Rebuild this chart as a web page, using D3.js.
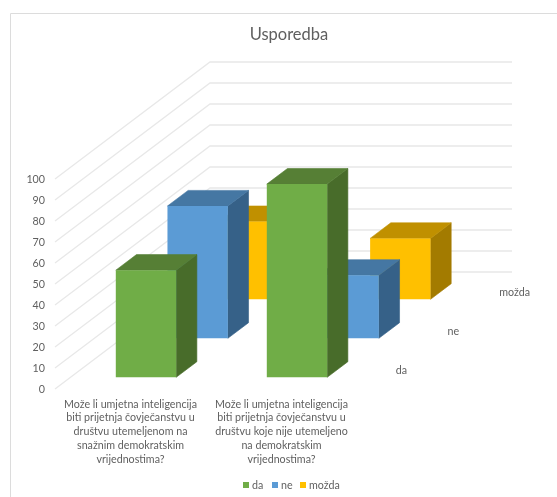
<!DOCTYPE html>
<html>
<head>
<meta charset="utf-8">
<script src="https://cdn.jsdelivr.net/npm/d3@7"></script>
<style>
  html, body { margin: 0; padding: 0; background: #fff; }
  svg { filter: blur(0.35px); }
  text { font-family: Lato, "Open Sans", sans-serif; fill: #5f5f5f; }
</style>
</head>
<body>
<script>
const title = 'Usporedba';
const categories = [
    ['Može li umjetna inteligencija', 'biti prijetnja čovječanstvu u', 'društvu utemeljenom na', 'snažnim demokratskim', 'vrijednostima?'],
    ['Može li umjetna inteligencija', 'biti prijetnja čovječanstvu u', 'društvu koje nije utemeljeno', 'na demokratskim', 'vrijednostima?']
];
const seriesNames = ['da', 'ne', 'možda'];
const daValues = [51, 92];
const neValues = [63, 30];
const mozdaValues = [37, 29];
const valueTicks = [0, 10, 20, 30, 40, 50, 60, 70, 80, 90, 100];

const seriesValues = [daValues, neValues, mozdaValues];
const frontColors = ['#70ad47', '#5b9bd5', '#ffc000'];
const topColors = ['#567f35', '#4577a3', '#c09000'];
const sideColors = ['#486c2a', '#366188', '#a37b00'];

const width = 557, height = 497;

const svg = d3.select('body').append('svg')
    .attr('width', width)
    .attr('height', height)
    .style('display', 'block');

// chart frame, only top and left edges are visible in the crop
svg.append('path')
    .attr('d', d3.line()([[10.5, height], [10.5, 13.5], [width, 13.5]]))
    .attr('fill', 'none')
    .attr('stroke', '#dcdcdc')
    .attr('stroke-width', 1);

svg.append('text')
    .text(title)
    .attr('x', 289)
    .attr('y', 39.5)
    .attr('text-anchor', 'middle')
    .style('font-size', '16.5px');

// oblique projection: front floor edge + a depth vector going up and right
const yValue = d3.scaleLinear().domain([0, 100]).range([389, 179]);
const xFloor = d3.scaleLinear().domain([0, 1]).range([55, 357]);
const depthX = d3.scaleLinear().domain([0, 1]).range([0, 155]);
const depthY = d3.scaleLinear().domain([0, 1]).range([0, -117]);

const catIndex = d3.range(categories.length);
const xBand = d3.scaleBand().domain(catIndex).range([0, 1]).paddingInner(0.6).paddingOuter(0.3);
const depthBand = d3.scaleBand().domain(seriesNames).range([0, 1]).paddingInner(0.6).paddingOuter(0.3);

function project(x, v, depth) {
    return [xFloor(x) + depthX(depth), yValue(v) + depthY(depth)];
}

// walls
const grid = svg.append('g')
    .attr('fill', 'none')
    .attr('stroke', '#e8e8e8')
    .attr('stroke-width', 1.3);

grid.selectAll('path')
    .data(valueTicks)
    .enter()
    .append('path')
    .attr('d', d => d3.line()([project(0, d, 0), project(0, d, 1), project(1, d, 1)]));

svg.append('g')
    .selectAll('text')
    .data(valueTicks)
    .enter()
    .append('text')
    .text(d => d)
    .attr('x', 45)
    .attr('y', d => yValue(d) + 3.5)
    .attr('text-anchor', 'end')
    .style('font-size', '10.7px');

// bars, back row first so the front rows cover it
function barFaces(cat, serie, value) {
    const x0 = xBand(cat), x1 = x0 + xBand.bandwidth();
    const d0 = depthBand(serie), d1 = d0 + depthBand.bandwidth();
    return {
        front: [project(x0, 0, d0), project(x1, 0, d0), project(x1, value, d0), project(x0, value, d0)],
        top: [project(x0, value, d0), project(x1, value, d0), project(x1, value, d1), project(x0, value, d1)],
        side: [project(x1, 0, d0), project(x1, 0, d1), project(x1, value, d1), project(x1, value, d0)]
    };
}

const line = d3.line().curve(d3.curveLinearClosed);

d3.range(seriesNames.length).reverse().forEach(s => {
    catIndex.forEach(c => {
        const faces = barFaces(c, seriesNames[s], seriesValues[s][c]);
        const bar = svg.append('g').attr('class', 'bar');
        // thin stroke closes the seam between faces
        bar.append('path').attr('d', line(faces.side)).attr('fill', sideColors[s])
            .attr('stroke', sideColors[s]).attr('stroke-width', 0.6);
        bar.append('path').attr('d', line(faces.top)).attr('fill', topColors[s])
            .attr('stroke', topColors[s]).attr('stroke-width', 0.6);
        bar.append('path').attr('d', line(faces.front)).attr('fill', frontColors[s]);
    });
});

// category labels under the front edge
catIndex.forEach(c => {
    const cx = xFloor(xBand(c) + xBand.bandwidth() / 2);
    svg.append('text')
        .attr('text-anchor', 'middle')
        .style('font-size', '10.7px')
        .selectAll('tspan')
        .data(categories[c])
        .enter()
        .append('tspan')
        .attr('x', cx)
        .attr('y', (d, i) => 407.5 + i * 13.8)
        .text(d => d);
});

// series labels along the depth axis
svg.append('g')
    .selectAll('text')
    .data(seriesNames)
    .enter()
    .append('text')
    .text(d => d)
    .attr('x', d => {
        const dMid = depthBand(d) + depthBand.bandwidth() / 2;
        return xFloor(1) + depthX(dMid) + 13;
    })
    .attr('y', d => {
        const dMid = depthBand(d) + depthBand.bandwidth() / 2;
        return yValue(0) + depthY(dMid) + 4.5;
    })
    .style('font-size', '10.7px');

// legend
const legendX = [243, 272, 300];
const legend = svg.append('g')
    .selectAll('g')
    .data(seriesNames)
    .enter()
    .append('g')
    .attr('transform', (d, i) => 'translate(' + legendX[i] + ',482)');

legend.append('rect')
    .attr('width', 6)
    .attr('height', 6)
    .attr('fill', (d, i) => frontColors[i]);

legend.append('text')
    .text(d => d)
    .attr('x', 9)
    .attr('y', 7)
    .style('font-size', '10.7px');
</script>
</body>
</html>
